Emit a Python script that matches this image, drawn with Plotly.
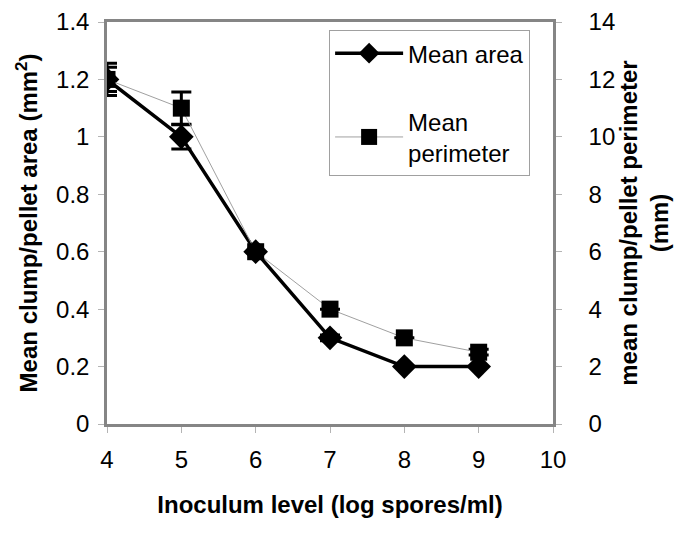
import plotly.graph_objects as go

# inoculum level (log spores/ml)
inoculum = [4, 5, 6, 7, 8, 9]

# mean clump/pellet area (mm2) and its error
mean_area = [1.2, 1.0, 0.6, 0.3, 0.2, 0.2]
area_err = [0.042, 0.042, 0.0, 0.01, 0.0, 0.0]

# mean clump/pellet perimeter (mm) and its error
mean_perimeter = [12, 11, 6, 4, 3, 2.5]
perimeter_err = [0.56, 0.56, 0.0, 0.0, 0.0, 0.1]

FONT = "Liberation Sans, Arial, sans-serif"
GREY = "#858585"
TICK = "#b4b4b4"

fig = go.Figure()

fig.add_trace(go.Scatter(
    x=inoculum, y=mean_area, name="Mean area", legendgroup="a",
    mode="lines+markers",
    line=dict(color="black", width=3.5),
    marker=dict(symbol="diamond", size=19, color="black"),
    error_y=dict(type="data", array=area_err, color="black", thickness=3, width=10),
))

fig.add_trace(go.Scatter(
    x=inoculum, y=mean_perimeter, name="Mean<br>perimeter", legendgroup="p",
    mode="lines+markers", yaxis="y2",
    line=dict(color="#a0a0a0", width=1),
    marker=dict(symbol="square", size=17, color="black"),
    error_y=dict(type="data", array=perimeter_err, color="black", thickness=3, width=10),
))

axis_common = dict(
    showgrid=False, zeroline=False, automargin=False,
    showline=True, linecolor=GREY, linewidth=2.5,
    ticks="outside", ticklen=6, tickcolor=TICK, tickwidth=1,
    tickfont=dict(size=24),
)

# the page body keeps an 8px margin, so the figure is 8px smaller than the window
fig.update_layout(
    width=677, height=526,
    paper_bgcolor="white", plot_bgcolor="white",
    font=dict(family=FONT, size=24, color="black"),
    margin=dict(l=99, r=132, t=14, b=110),
    showlegend=True,
    legend=dict(
        x=0.498, y=0.98, xanchor="left", yanchor="top",
        bgcolor="white", bordercolor="#a0a0a0", borderwidth=1,
        font=dict(size=24), tracegroupgap=34, traceorder="grouped",
        itemwidth=68,
    ),
    xaxis=dict(
        range=[4, 10], dtick=1, mirror=True, ticklabelstandoff=6,
        title=dict(text="<b>Inoculum level (log spores/ml)</b>", font=dict(size=24), standoff=25),
        **axis_common,
    ),
    yaxis=dict(
        range=[0, 1.4], dtick=0.2, ticklabelstandoff=4,
        title=dict(text="<b>Mean clump/pellet area (mm<sup>2</sup>)</b>", font=dict(size=24), standoff=12),
        **axis_common,
    ),
    yaxis2=dict(
        range=[0, 14], dtick=2, overlaying="y", side="right", ticklabelstandoff=22,
        title=dict(text="<b>mean clump/pellet perimeter<br>(mm)</b>", font=dict(size=24), standoff=0),
        **axis_common,
    ),
)

fig.write_html("out.html")
